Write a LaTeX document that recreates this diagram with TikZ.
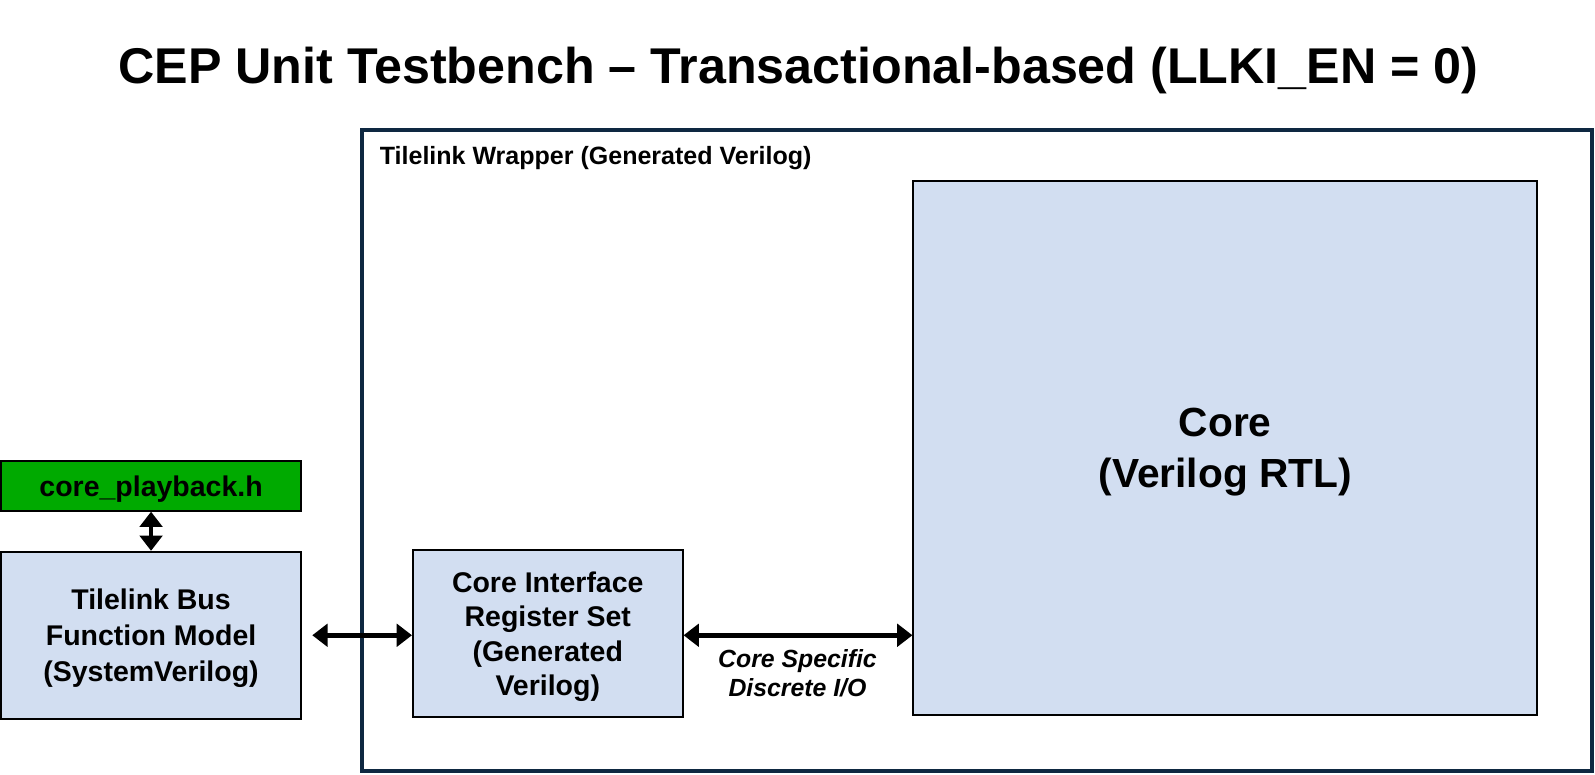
\documentclass[tikz,border=0pt]{standalone}
\usepackage{fontspec}
\setmainfont{Liberation Sans}
\usetikzlibrary{arrows.meta}

\definecolor{boxblue}{RGB}{210,222,241}
\definecolor{hgreen}{RGB}{0,170,0}
\definecolor{wrapnavy}{RGB}{14,40,65}

\begin{document}
\begin{tikzpicture}[x=0.5pt, y=-0.5pt,
      every node/.append style={align=center},
      link/.style={line width=2.2pt, {Triangle[length=7.5pt,width=11pt]}-{Triangle[length=7.5pt,width=11pt]}}]
    \tikzstyle{box} = [draw=black, line width=1pt, fill=boxblue, inner sep=0pt, text depth=0pt,
      font=\fontsize{14}{17.5}\selectfont\bfseries]
    \useasboundingbox (0,0) rectangle (1568,761);
    % title
    \node (title) [font=\fontsize{24.7}{30}\selectfont\bfseries] at (785,69) {CEP Unit Testbench -- Transactional-based (LLKI\_EN = 0)};
    % wrapper
    \node (wrap) [draw=wrapnavy, line width=2pt, minimum width=604.5pt, minimum height=315pt] at (960.5,443) {};
    \node (wraplabel) [anchor=north west, inner sep=0pt, font=\fontsize{12.3}{14}\selectfont\bfseries] at (373,143) {Tilelink Wrapper (Generated Verilog)};
    % boxes
    \node (play) [box, fill=hgreen, minimum width=147.5pt, minimum height=24.5pt] at (148.5,477.5) {core\_playback.h};
    \node (bfm) [box, minimum width=147.5pt, minimum height=82pt] at (148.5,624.5) {Tilelink Bus\\Function Model\\(SystemVerilog)};
    \node (cirs) [box, minimum width=132.5pt, minimum height=82pt, font=\fontsize{14}{17}\selectfont\bfseries] at (538.5,623) {Core Interface\\Register Set\\(Generated\\Verilog)};
    \node (core) [box, minimum width=306.5pt, minimum height=262.5pt, font=\fontsize{20}{25}\selectfont\bfseries] at (1204.5,440.5) {Core\\(Verilog RTL)};
    \node (iolabel) [font=\fontsize{12.2}{14.5}\selectfont\bfseries\itshape] at (784,662) {Core Specific\\Discrete I/O};
    % connectors
    \draw[link] (play.south) -- (bfm.north);
    \draw[link, shorten <=5pt] (bfm.east) -- (bfm.east -| cirs.west);
    \draw[link] (bfm.east -| cirs.east) -- (bfm.east -| core.west);
\end{tikzpicture}
\end{document}
